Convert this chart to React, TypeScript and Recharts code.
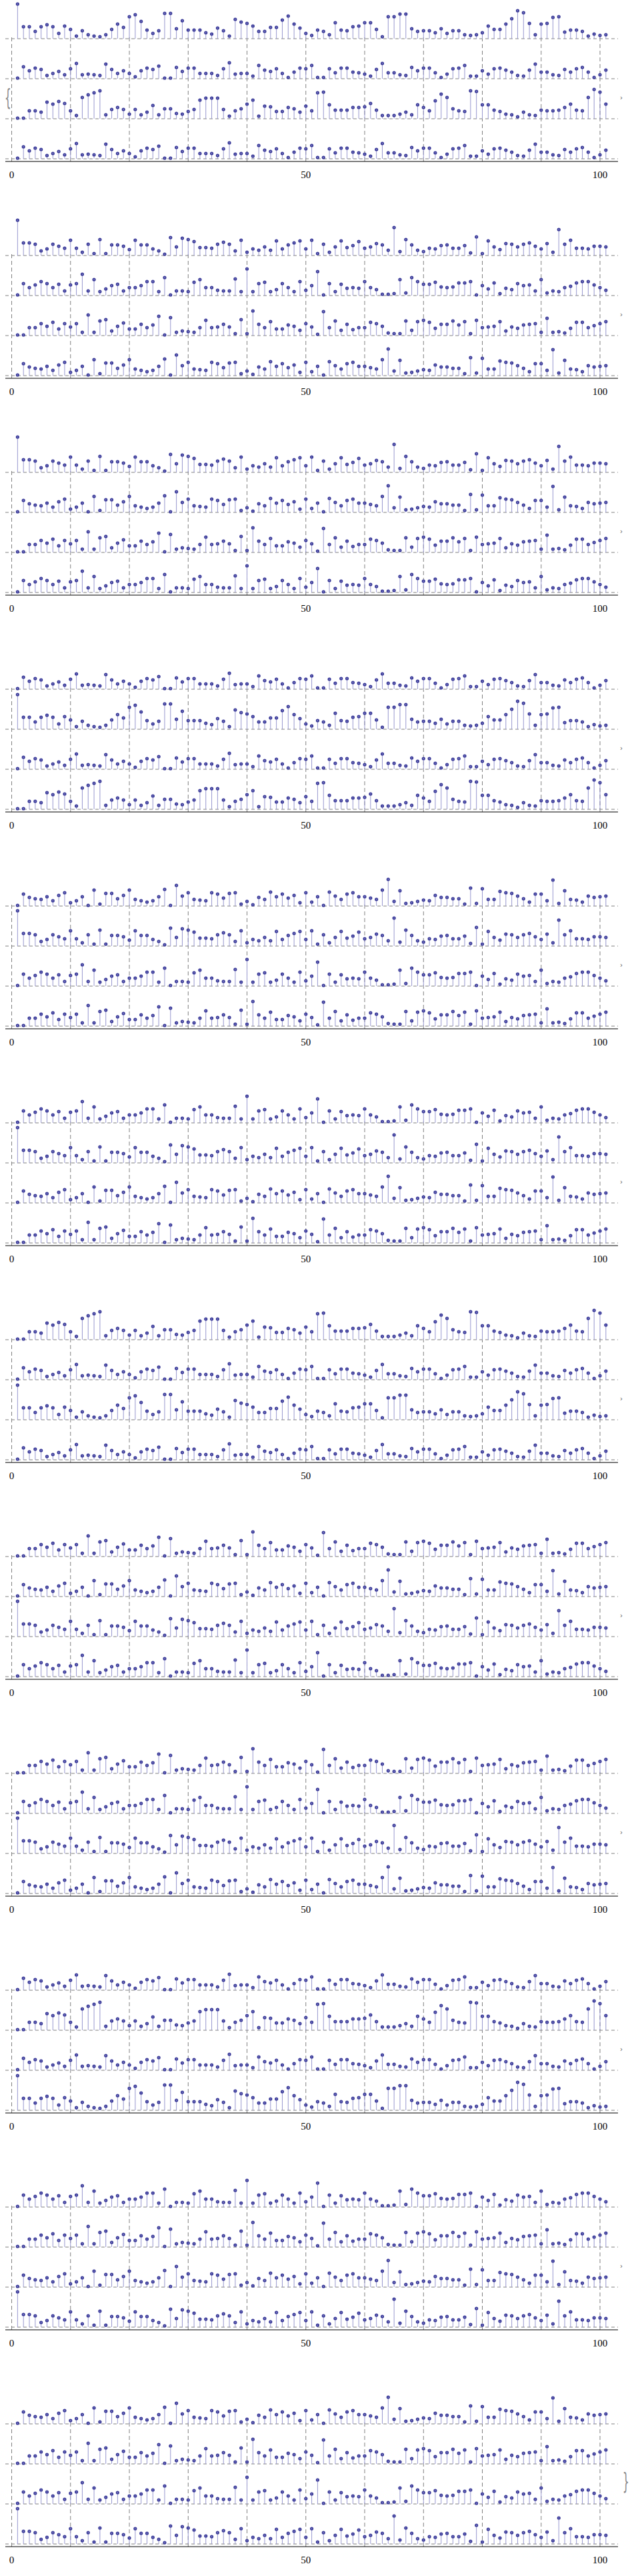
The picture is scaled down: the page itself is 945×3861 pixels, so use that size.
import { ComposedChart, Scatter, ErrorBar, XAxis, YAxis, ReferenceLine } from 'recharts'

// sample index on the x axis
const xIndex = Array.from({ length: 101 }, (_, i) => i + 1)

// the seven distinct stem series that the rows reuse
const seriesA = [
  53, 19, 19, 17, 7, 10, 17, 14, 11, 23, 11, 5, 17, 3, 24, 3, 16, 16, 14, 9,
  23, 16, 16, 10, 7, 2, 27, 13, 26, 24, 21, 12, 12, 11, 17, 20, 17, 7, 23, 5,
  10, 8, 13, 8, 22, 10, 16, 19, 22, 10, 23, 3, 17, 5, 13, 22, 12, 15, 21, 11,
  13, 18, 16, 8, 42, 6, 24, 16, 8, 6, 11, 10, 15, 16, 11, 11, 15, 4, 28, 3,
  22, 13, 9, 18, 17, 13, 17, 19, 14, 10, 18, 5, 39, 17, 23, 11, 11, 10, 14, 14, 13,
]
const seriesB = [
  1, 1, 12, 12, 10, 25, 22, 26, 23, 12, 5, 32, 36, 39, 42, 6, 14, 17, 14, 7,
  14, 6, 10, 20, 6, 15, 15, 8, 7, 11, 14, 28, 31, 31, 31, 14, 4, 12, 15, 22,
  28, 4, 19, 18, 11, 11, 17, 15, 10, 19, 12, 39, 40, 21, 13, 13, 13, 17, 17, 18,
  23, 13, 5, 5, 5, 7, 10, 6, 21, 17, 12, 27, 37, 32, 15, 12, 11, 42, 41, 21,
  21, 13, 11, 7, 6, 3, 10, 6, 5, 13, 12, 12, 13, 17, 22, 13, 12, 32, 44, 40, 22,
]
const seriesE = [
  52, 18, 18, 11, 18, 21, 18, 8, 19, 14, 4, 12, 6, 4, 3, 6, 14, 22, 17, 33,
  36, 26, 13, 8, 12, 38, 38, 15, 27, 13, 13, 13, 9, 7, 16, 12, 4, 29, 25, 23,
  19, 11, 11, 17, 17, 28, 34, 22, 16, 8, 5, 13, 11, 6, 24, 13, 12, 18, 19, 24,
  24, 14, 3, 33, 33, 37, 37, 15, 11, 12, 12, 9, 15, 8, 12, 12, 6, 5, 6, 9,
  19, 14, 14, 22, 30, 42, 39, 23, 6, 22, 23, 32, 33, 10, 13, 13, 11, 4, 7, 5, 6,
]
const seriesF = [
  1, 18, 12, 16, 14, 5, 8, 11, 6, 15, 23, 6, 7, 6, 5, 22, 14, 8, 12, 8,
  3, 12, 16, 14, 19, 1, 1, 17, 11, 16, 16, 8, 8, 8, 5, 15, 24, 7, 8, 8,
  4, 20, 13, 11, 15, 8, 2, 10, 16, 15, 20, 2, 2, 15, 9, 16, 16, 10, 9, 7,
  4, 14, 23, 9, 9, 6, 5, 17, 12, 16, 16, 9, 2, 7, 15, 16, 20, 4, 4, 12,
  7, 15, 16, 13, 10, 5, 4, 13, 22, 10, 10, 6, 5, 14, 10, 15, 17, 10, 2, 6, 13,
]
const seriesG = [
  1, 18, 12, 16, 21, 18, 12, 17, 7, 16, 18, 32, 7, 24, 6, 10, 15, 17, 7, 12,
  12, 15, 21, 21, 6, 27, 1, 7, 7, 6, 20, 24, 12, 12, 8, 7, 7, 25, 6, 40,
  6, 18, 20, 6, 9, 18, 12, 6, 21, 8, 15, 36, 1, 18, 6, 17, 11, 12, 11, 21,
  12, 9, 2, 2, 3, 24, 4, 27, 21, 17, 17, 20, 13, 12, 13, 19, 19, 21, 1, 15,
  10, 19, 3, 11, 9, 18, 15, 16, 7, 24, 4, 7, 6, 12, 14, 19, 21, 21, 16, 12, 8,
]
const seriesH = [
  1, 1, 12, 12, 18, 14, 20, 10, 18, 13, 18, 5, 31, 5, 22, 24, 7, 14, 19, 10,
  10, 17, 12, 16, 29, 1, 27, 5, 7, 6, 5, 12, 23, 12, 13, 17, 13, 3, 24, 3,
  37, 17, 12, 21, 10, 10, 16, 14, 8, 18, 13, 2, 36, 12, 22, 8, 17, 9, 12, 12,
  20, 18, 14, 4, 3, 3, 22, 8, 21, 23, 20, 11, 17, 17, 22, 16, 21, 3, 23, 12,
  13, 14, 21, 7, 13, 11, 16, 17, 18, 5, 26, 5, 6, 4, 11, 20, 20, 12, 15, 18, 21,
]
const seriesI = [
  1, 18, 13, 11, 10, 14, 8, 16, 20, 5, 8, 14, 1, 24, 3, 19, 19, 11, 16, 24,
  10, 8, 6, 8, 14, 25, 1, 31, 15, 20, 10, 9, 8, 20, 18, 12, 19, 20, 3, 7,
  2, 13, 10, 21, 14, 18, 12, 16, 5, 20, 6, 14, 1, 21, 15, 10, 18, 20, 14, 14,
  12, 10, 24, 40, 7, 23, 4, 5, 7, 9, 8, 16, 13, 13, 11, 11, 3, 27, 4, 26,
  10, 10, 22, 20, 19, 15, 11, 6, 18, 18, 8, 39, 4, 23, 10, 9, 6, 15, 13, 14, 15,
]

// which series sits in each row, top row first, one list per panel
const panelRows = [
  ['E', 'F', 'B', 'F'],
  ['A', 'G', 'H', 'I'],
  ['A', 'I', 'H', 'G'],
  ['F', 'E', 'F', 'B'],
  ['I', 'A', 'G', 'H'],
  ['G', 'A', 'I', 'H'],
  ['B', 'F', 'E', 'F'],
  ['H', 'I', 'A', 'G'],
  ['H', 'G', 'A', 'I'],
  ['F', 'B', 'F', 'E'],
  ['G', 'H', 'I', 'A'],
  ['I', 'H', 'G', 'A'],
]

const xTicks = [0, 50, 100]
const gridX = [0, 10, 20, 30, 40, 50, 60, 70, 80, 90, 100]
const rowBase = [184, 124, 64, 4]

const seriesByKey: Record<string, number[]> = {
  A: seriesA,
  B: seriesB,
  E: seriesE,
  F: seriesF,
  G: seriesG,
  H: seriesH,
  I: seriesI,
}

const PANEL_H = 325
const STEM = '#9898cf'
const DOT = '#3b3b99'

const Marker = (props: any) => {
  const { cx, cy } = props
  if (cx == null || cy == null) return null
  return (
    <g>
      <circle cx={cx} cy={cy} r={2.6} fill={DOT} />
      <circle cx={cx} cy={cy} r={0.8} fill="#a4a4dc" />
    </g>
  )
}

const Panel = ({ rows, index }: { rows: string[]; index: number }) => {
  return (
    <div style={{ position: 'absolute', top: index * PANEL_H, left: 0, width: 945, height: PANEL_H }}>
      <ComposedChart width={945} height={PANEL_H} margin={{ top: 2, right: 18, left: 8, bottom: 53 }}>
        <XAxis
          type="number"
          dataKey="x"
          domain={[-1.08, 103.06]}
          allowDataOverflow
          ticks={xTicks}
          interval={0}
          tickLine={false}
          tickSize={12}
          height={30}
          axisLine={{ stroke: '#000' }}
          tick={{ fontSize: 15, fill: '#000', fontFamily: '"Liberation Serif", serif' }}
        />
        <YAxis type="number" dataKey="y" domain={[0, 240]} allowDataOverflow hide />
        {rowBase.map((b) => (
          <ReferenceLine key={'h' + b} y={b} stroke="#808080" strokeDasharray="5 4" />
        ))}
        {gridX.map((g) => (
          <ReferenceLine
            key={'v' + g}
            segment={[
              { x: g, y: 0 },
              { x: g, y: 187 },
            ]}
            stroke="#808080"
            strokeDasharray="6 4"
          />
        ))}
        {rows.map((key, r) => (
          <Scatter
            key={r}
            data={seriesByKey[key].map((v, i) => ({ x: xIndex[i], y: rowBase[r] + v, err: [v, 0] }))}
            shape={Marker}
            isAnimationActive={false}
          >
            <ErrorBar dataKey="err" direction="y" width={0} stroke={STEM} strokeWidth={1} isAnimationActive={false} />
          </Scatter>
        ))}
      </ComposedChart>
      {index === 0 ? (
        <span style={{ position: 'absolute', left: 1, top: 126, fontSize: 34, color: '#888', fontFamily: 'DejaVu Sans', transform: 'scaleX(0.45)' }}>{'{'}</span>
      ) : null}
      {index === 11 ? (
        <span style={{ position: 'absolute', left: 928, top: 124, fontSize: 34, color: '#888', fontFamily: 'DejaVu Sans', transform: 'scaleX(0.45)' }}>{'}'}</span>
      ) : (
        <span style={{ position: 'absolute', left: 930, top: 141, fontSize: 10, color: '#555', fontFamily: 'DejaVu Sans' }}>{'›'}</span>
      )}
    </div>
  )
}

export default function App() {
  return (
    <div style={{ position: 'absolute', left: 0, top: 0, width: 945, height: 3861, overflow: 'hidden', background: '#fff' }}>
      {panelRows.map((rows, p) => (
        <Panel key={p} rows={rows} index={p} />
      ))}
    </div>
  )
}
